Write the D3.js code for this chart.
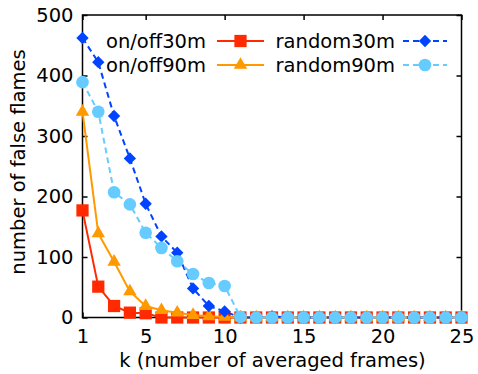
<!DOCTYPE html>
<html lang="en">
<head>
<meta charset="UTF-8">
<title>false flames vs k</title>
<style>
  body { margin: 0; padding: 0; background: #fff; overflow: hidden; }
  svg { display: block; }
  text { font-family: "DejaVu Sans", Verdana, sans-serif; fill: #000; }
</style>
</head>
<body>
<script src="https://d3js.org/d3.v7.min.js"></script>
<script>
  // k = 1..25
  const kValues = d3.range(1, 26);
  const onoff30 = [177, 51, 19, 8, 7, 0, 0, 0, 0, 0, 0, 0, 0, 0, 0, 0, 0, 0, 0, 0, 0, 0, 0, 0, 0];
  const onoff90 = [340, 139, 92, 43, 19, 12, 8, 4, 2, 1, 0, 0, 0, 0, 0, 0, 0, 0, 0, 0, 0, 0, 0, 0, 0];
  const random30 = [462, 422, 333, 263, 188, 134, 107, 48, 19, 10, 0, 0, 2, 0, 0, 0, 0, 0, 0, 0, 0, 0, 0, 0, 0];
  const random90 = [389, 340, 207, 187, 140, 115, 93, 72, 57, 52, 1, 0, 0, 0, 0, 0, 0, 0, 0, 0, 0, 0, 0, 0, 0];
  const xTicks = [1, 5, 10, 15, 20, 25];
  const yTicks = [0, 100, 200, 300, 400, 500];

  const width = 478, height = 374;
  const plotLeft = 82.5, plotRight = 461.5, plotTop = 15, plotBottom = 317.5;
  const fontSize = 19.5;

  const svg = d3.select('body').append('svg')
    .attr('width', width)
    .attr('height', height);

  const x = d3.scaleLinear().domain([1, 25]).range([plotLeft, plotRight]);
  const y = d3.scaleLinear().domain([0, 500]).range([plotBottom, plotTop]);

  const series = [
    { name: 'on/off30m', values: onoff30, color: '#ff2a00', dash: null, shape: d3.symbolSquare, size: 150, rot: 0 },
    { name: 'on/off90m', values: onoff90, color: '#ff9900', dash: null, shape: d3.symbolTriangle, size: 78, rot: 0 },
    { name: 'random30m', values: random30, color: '#0044ff', dash: '6,4', shape: d3.symbolSquare, size: 76, rot: 45 },
    { name: 'random90m', values: random90, color: '#66ccff', dash: '6,4', shape: d3.symbolCircle, size: 125, rot: 0 }
  ];

  // frame + ticks
  svg.append('rect')
    .attr('x', plotLeft).attr('y', plotTop)
    .attr('width', plotRight - plotLeft).attr('height', plotBottom - plotTop)
    .attr('fill', 'none').attr('stroke', '#000').attr('stroke-width', 1.5);

  const tickLen = 5;
  svg.append('g').attr('transform', `translate(0,${plotBottom})`)
    .call(d3.axisBottom(x).tickValues(xTicks).tickSize(-tickLen).tickPadding(12))
    .call(g => g.select('.domain').remove());
  svg.append('g').attr('transform', `translate(0,${plotTop})`)
    .call(d3.axisTop(x).tickValues(xTicks).tickSize(-tickLen).tickFormat(''))
    .call(g => g.select('.domain').remove());
  svg.append('g').attr('transform', `translate(${plotLeft},0)`)
    .call(d3.axisLeft(y).tickValues(yTicks).tickSize(-tickLen).tickPadding(9))
    .call(g => g.select('.domain').remove());
  svg.append('g').attr('transform', `translate(${plotRight},0)`)
    .call(d3.axisRight(y).tickValues(yTicks).tickSize(-tickLen).tickFormat(''))
    .call(g => g.select('.domain').remove());

  svg.selectAll('.tick line').attr('stroke', '#000').attr('stroke-width', 1.5);
  svg.selectAll('.tick text')
    .attr('font-size', fontSize)
    .attr('font-family', '"DejaVu Sans", Verdana, sans-serif')
    .attr('fill', '#000');

  // axis titles
  svg.append('text')
    .attr('x', 272.5)
    .attr('y', 366.5)
    .attr('text-anchor', 'middle')
    .attr('font-size', fontSize)
    .text('k (number of averaged frames)');

  svg.append('text')
    .attr('transform', 'translate(25,162) rotate(-90)')
    .attr('text-anchor', 'middle')
    .attr('font-size', fontSize)
    .text('number of false flames');

  // lines and markers
  const line = d3.line()
    .x((d, i) => x(kValues[i]))
    .y(d => y(d));

  series.forEach(s => {
    svg.append('path')
      .datum(s.values)
      .attr('d', line)
      .attr('fill', 'none')
      .attr('stroke', s.color)
      .attr('stroke-width', 2)
      .attr('stroke-dasharray', s.dash);

    svg.append('g').selectAll('path')
      .data(s.values)
      .join('path')
      .attr('transform', (d, i) => `translate(${x(kValues[i])},${y(d)}) rotate(${s.rot})`)
      .attr('d', d3.symbol().type(s.shape).size(s.size))
      .attr('fill', s.color);
  });

  // legend
  const legendPos = [
    { tx: 206, lx1: 217, lx2: 264, ly: 41 },
    { tx: 206, lx1: 217, lx2: 264, ly: 65 },
    { tx: 395, lx1: 403, lx2: 447, ly: 41 },
    { tx: 395, lx1: 403, lx2: 447, ly: 65 }
  ];
  series.forEach((s, i) => {
    const p = legendPos[i];
    const g = svg.append('g');
    g.append('text')
      .attr('x', p.tx).attr('y', p.ly + 6.5)
      .attr('text-anchor', 'end')
      .attr('font-size', fontSize)
      .text(s.name);
    g.append('line')
      .attr('x1', p.lx1).attr('x2', p.lx2)
      .attr('y1', p.ly).attr('y2', p.ly)
      .attr('stroke', s.color).attr('stroke-width', 2)
      .attr('stroke-dasharray', s.dash);
    g.append('path')
      .attr('transform', `translate(${(p.lx1 + p.lx2) / 2},${p.ly}) rotate(${s.rot})`)
      .attr('d', d3.symbol().type(s.shape).size(s.size))
      .attr('fill', s.color);
  });
</script>
</body>
</html>
